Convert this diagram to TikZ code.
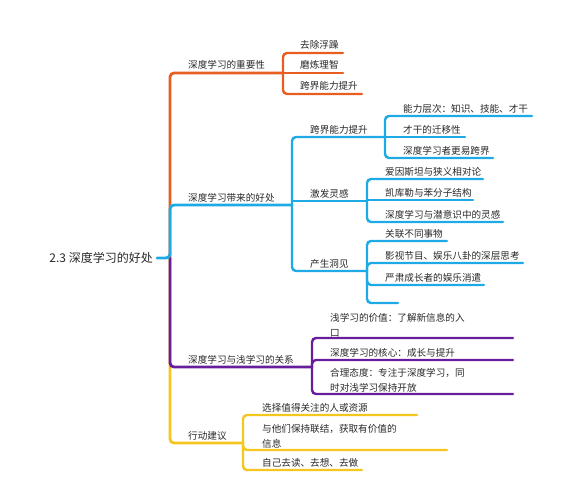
\documentclass[tikz,border=0pt]{standalone}
\usepackage{fontspec}
\newfontfamily\cjk{Noto Sans CJK SC}
\definecolor{cOr}{RGB}{232,94,32}
\definecolor{cBl}{RGB}{30,170,228}
\definecolor{cPu}{RGB}{104,30,156}
\definecolor{cYe}{RGB}{244,198,30}
\definecolor{txt}{RGB}{40,40,40}
\tikzset{
  lbl/.style={anchor=base west,inner sep=0pt,text=txt,font=\cjk\fontsize{9.6}{15}\selectfont,align=left},
  rootlbl/.style={anchor=east,inner sep=0pt,text=txt,font=\cjk\fontsize{12}{14}\selectfont},
  mainln/.style={line width=2.8pt,rounded corners=4pt,line cap=round},
  subln/.style={line width=2.4pt,rounded corners=4pt,line cap=round},
}
\begin{document}
\begin{tikzpicture}[x=1pt,y=-1pt]
\useasboundingbox (0,0) rectangle (569,500);
% root
\node[rootlbl] (root) at (153,258) {2.3 深度学习的好处};
\coordinate (r0) at (157,258);
\coordinate (T) at (170,258);
% junctions
\coordinate (j1) at (283,73);
\coordinate (j2) at (292,205);
\coordinate (j21) at (385,137);
\coordinate (j22) at (367,201);
\coordinate (j23) at (367,271);
\coordinate (j3) at (312,367);
\coordinate (j4) at (243,443);
% branch labels
\node[lbl] (b1) at (188,69) {深度学习的重要性};
\node[lbl] (b2) at (188,201) {深度学习带来的好处};
\node[lbl] (b3) at (188,363) {深度学习与浅学习的关系};
\node[lbl] (b4) at (188,439) {行动建议};
% orange children
\node[lbl] (c11) at (300,49) {去除浮躁};
\node[lbl] (c12) at (300,69) {磨炼理智};
\node[lbl] (c13) at (300,90) {跨界能力提升};
\coordinate (e11) at (343,53);
\coordinate (e12) at (343,73);
\coordinate (e13) at (362,94);
% blue
\node[lbl] (s21) at (310,133) {跨界能力提升};
\node[lbl] (s22) at (310,197) {激发灵感};
\node[lbl] (s23) at (310,267) {产生洞见};
\node[lbl] (c211) at (403,112) {能力层次：知识、技能、才干};
\node[lbl] (c212) at (403,133) {才干的迁移性};
\node[lbl] (c213) at (403,154) {深度学习者更易跨界};
\coordinate (e211) at (532,116);
\coordinate (e212) at (465,137);
\coordinate (e213) at (493,158);
\node[lbl] (c221) at (385,175) {爱因斯坦与狭义相对论};
\node[lbl] (c222) at (385,196) {凯库勒与苯分子结构};
\node[lbl] (c223) at (385,218) {深度学习与潜意识中的灵感};
\coordinate (e221) at (483,179);
\coordinate (e222) at (473,200);
\coordinate (e223) at (503,222);
\node[lbl] (c231) at (385,237) {关联不同事物};
\node[lbl] (c232) at (385,259) {影视节目、娱乐八卦的深层思考};
\node[lbl] (c233) at (385,281) {严肃成长者的娱乐消遣};
\coordinate (e231) at (447,241);
\coordinate (e232) at (523,263);
\coordinate (e233) at (484,285);
\coordinate (e234) at (398,303);
% purple (multi-line nodes: base = last line)
\node[lbl] (c31) at (330,336) {浅学习的价值：了解新信息的入\\口};
\node[lbl] (c32) at (330,356) {深度学习的核心：成长与提升};
\node[lbl] (c33) at (330,391) {合理态度：专注于深度学习，同\\时对浅学习保持开放};
\coordinate (e31) at (513,338);
\coordinate (e32) at (513,360);
\coordinate (e33) at (513,394);
% yellow
\node[lbl] (c41) at (262,411) {选择值得关注的人或资源};
\node[lbl] (c42) at (262,447) {与他们保持联结，获取有价值的\\信息};
\node[lbl] (c43) at (262,466) {自己去读、去想、去做};
\coordinate (e41) at (417,415);
\coordinate (e42) at (447,450);
\coordinate (e43) at (362,470);

% ---- orange
\draw[mainln,cOr] (T) |- (j1);
\draw[subln,cOr] (j1) |- (e11);
\draw[subln,cOr] (j1) -- (e12);
\draw[subln,cOr] (j1) |- (e13);
% ---- yellow
\draw[mainln,cYe] (T) |- (j4);
\draw[subln,cYe] (j4) |- (e41);
\draw[subln,cYe] (j4) |- (e42);
\draw[subln,cYe] (j4) |- (e43);
% ---- purple
\draw[mainln,cPu] (T) |- (j3);
\draw[subln,cPu] (j3) |- (e31);
\draw[subln,cPu] (j3) |- (e32);
\draw[subln,cPu] (j3) |- (e33);
% ---- blue
\draw[mainln,cBl] (r0) -- (T) |- (j2);
\draw[subln,cBl] (j2) |- (j21);
\draw[subln,cBl] (j2 |- j22) -- (j22);
\draw[subln,cBl] (j2) |- (j23);
\draw[subln,cBl] (j21) |- (e211);
\draw[subln,cBl] (j21) -- (e212);
\draw[subln,cBl] (j21) |- (e213);
\draw[subln,cBl] (j22) |- (e221);
\draw[subln,cBl] (j22 |- e222) -- (e222);
\draw[subln,cBl] (j22) |- (e223);
\draw[subln,cBl] (j23) |- (e231);
\draw[subln,cBl] (j23) |- (e232);
\draw[subln,cBl] (j23) |- (e233);
\draw[subln,cBl] (j23) |- (e234);
\end{tikzpicture}
\end{document}
